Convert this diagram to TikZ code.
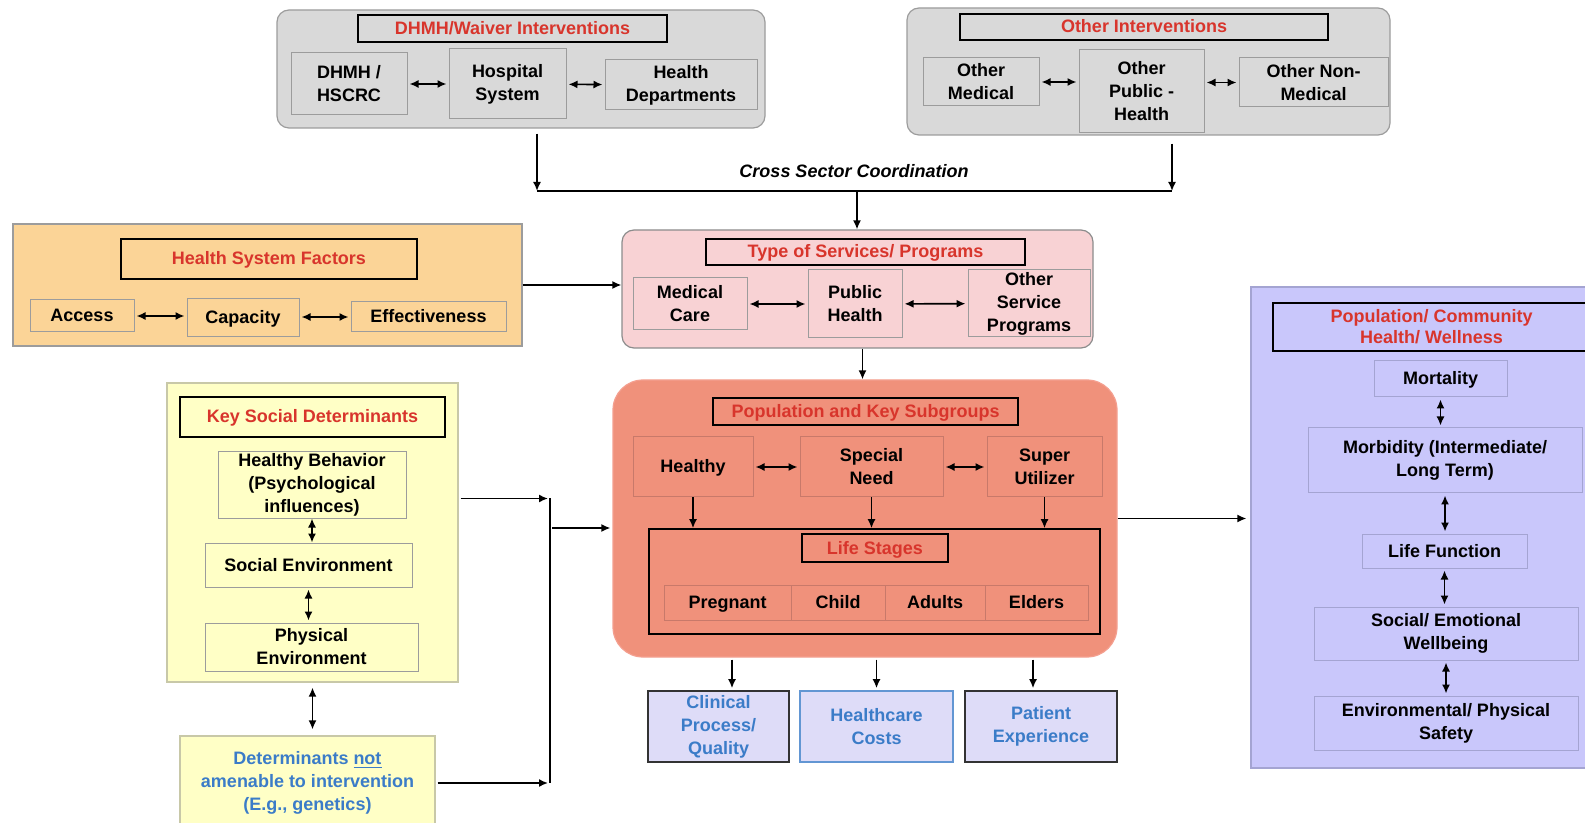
\documentclass[tikz,border=0pt]{standalone}
\usepackage{fontspec}
\setmainfont{Liberation Sans}
\usetikzlibrary{arrows.meta}

\definecolor{grayfill}{HTML}{D9D9D9}
\definecolor{grayline}{HTML}{9C9C9C}
\definecolor{orangefill}{HTML}{FBD497}
\definecolor{pinkfill}{HTML}{F8D2D4}
\definecolor{salmon}{HTML}{F0917B}
\definecolor{salmonline}{HTML}{C8796A}
\definecolor{yellowfill}{HTML}{FFFFC6}
\definecolor{yellowline}{HTML}{C8C8A8}
\definecolor{lilac}{HTML}{C9C7FB}
\definecolor{lilacline}{HTML}{A4A4D2}
\definecolor{lilaclight}{HTML}{DEDCF8}
\definecolor{titlered}{HTML}{D8352C}
\definecolor{textblue}{HTML}{3B7CC8}

\newcommand{\dfont}{\fontsize{9}{11.5}\selectfont}

\tikzset{
  >={Latex[length=4.5pt,width=4pt]},
  panel/.style={draw=grayline, line width=0.6pt},
  ttl/.style={draw=black, line width=0.9pt, text=titlered, font=\dfont\bfseries, align=center, inner sep=0pt},
  itm/.style={draw=grayline, line width=0.5pt, font=\dfont\bfseries, align=center, inner sep=0pt},
  oneline/.style={text height=6.6pt, text depth=0.6pt},
  outc/.style={draw=black!80, line width=0.8pt, fill=lilaclight, text=textblue, font=\dfont\bfseries, align=center, inner sep=0pt},
  conn/.style={line width=0.8pt, shorten >=1pt, shorten <=1pt},
}

\begin{document}
\begin{tikzpicture}[x=0.5pt, y=-0.5pt]
\clip (0,0) rectangle (1585,823);

% DHMH / waiver interventions
\node[panel, fill=grayfill, rounded corners=6pt, minimum width=244pt, minimum height=59pt] (dhmhgrp) at (521,69) {};
\node[ttl, oneline, minimum width=154.5pt, minimum height=13.5pt] (dhmhttl) at (512.5,28.5) {DHMH/Waiver Interventions};
\node[itm, minimum width=58pt, minimum height=31pt] (dhmh) at (349,84) {DHMH /\\HSCRC};
\node[itm, minimum width=58.5pt, minimum height=35pt] (hosp) at (507.5,84) {Hospital\\System};
\node[itm, minimum width=76pt, minimum height=25pt] (hdept) at (681,85) {Health\\Departments};
\draw[conn,<->] (dhmh) -- (hosp);
\draw[conn,<->] (hosp) -- (hdept);

% other interventions
\node[panel, fill=grayfill, rounded corners=6pt, minimum width=241.5pt, minimum height=63.5pt] (othgrp) at (1148.5,71.5) {};
\node[ttl, oneline, minimum width=184pt, minimum height=13pt] (othttl) at (1144,27) {Other Interventions};
\node[itm, minimum width=58pt, minimum height=24pt] (omed) at (981,82) {Other\\Medical};
\node[itm, minimum width=62.5pt, minimum height=41.5pt] (oph) at (1141.5,91.5) {Other\\Public -\\Health};
\node[itm, minimum width=74.5pt, minimum height=24.5pt] (onm) at (1313.5,82.5) {Other Non-\\Medical};
\draw[conn,<->] (omed.east) -- (omed.east -| oph.west);
\draw[conn,<->] (onm.west -| oph.east) -- (onm.west);

% cross sector coordination
\coordinate (xs) at (857,191);
\coordinate (dhmhout) at ([xshift=8pt,yshift=-2.5pt]dhmhgrp.south);
\coordinate (othout) at ([xshift=11.75pt,yshift=-4pt]othgrp.south);
\node[font=\dfont\bfseries\itshape] (xslbl) at (854,171) {Cross Sector Coordination};
\draw[line width=0.8pt,->] (dhmhout) -- (dhmhout |- xs);
\draw[line width=0.8pt,->] (othout) -- (othout |- xs);
\draw[line width=0.8pt] (dhmhout |- xs) -- (othout |- xs);

% type of services
\node[panel, draw=black!45, fill=pinkfill, rounded corners=6pt, minimum width=235.5pt, minimum height=59pt] (svc) at (857.5,289) {};
\node[ttl, oneline, minimum width=159.5pt, minimum height=13pt] (svcttl) at (865.5,252) {Type of Services/ Programs};
\node[itm, minimum width=57pt, minimum height=26pt] (med) at (690,304) {Medical\\Care};
\node[itm, minimum width=47pt, minimum height=34pt] (pub) at (855,304) {Public\\Health};
\node[itm, minimum width=61pt, minimum height=33.5pt] (osp) at (1029,303.5) {Other\\Service\\Programs};
\draw[conn,<->] (med) -- (pub);
\draw[conn,<->] (pub) -- (osp);
\draw[line width=0.8pt,->] (xs) -- (xs |- svc.north);

% health system factors
\node[panel, fill=orangefill, minimum width=254.5pt, minimum height=61pt] (hsf) at (267.5,285) {};
\node[ttl, oneline, minimum width=148pt, minimum height=20pt] (hsfttl) at (269,259) {Health System Factors};
\node[itm, oneline, minimum width=52pt, minimum height=16pt] (access) at (82,316) {Access};
\node[itm, oneline, minimum width=56pt, minimum height=19pt] (capacity) at (243,318) {Capacity};
\node[itm, oneline, minimum width=77.5pt, minimum height=15pt] (effect) at (428.5,317) {Effectiveness};
\draw[conn,<->] (access.east) -- (access.east -| capacity.west);
\draw[conn,<->] (effect.west -| capacity.east) -- (effect.west);
\draw[line width=0.8pt,->] (hsf.east) -- (hsf.east -| svc.west);

% population and key subgroups
\node[draw=salmon!70!pink, line width=0.6pt, fill=salmon, rounded corners=15pt, minimum width=252pt, minimum height=138.5pt] (pop) at (865,518.5) {};
\node[ttl, oneline, minimum width=152.5pt, minimum height=13.5pt] (popttl) at (865.5,411.5) {Population and Key Subgroups};
\node[itm, oneline, draw=salmonline, minimum width=60pt, minimum height=30pt] (healthy) at (693,467) {Healthy};
\node[itm, draw=salmonline, minimum width=71.5pt, minimum height=30pt] (special) at (871.5,467) {Special\\Need};
\node[itm, draw=salmonline, minimum width=57.5pt, minimum height=30pt] (super) at (1044.5,467) {Super\\Utilizer};
\draw[conn,<->] (healthy) -- (special);
\draw[conn,<->] (special) -- (super);
\node[draw=black, line width=0.8pt, minimum width=225.5pt, minimum height=52.5pt] (ls) at (874.5,581.5) {};
\node[ttl, oneline, minimum width=73pt, minimum height=14pt] (lsttl) at (875,548) {Life Stages};
\node[itm, oneline, draw=salmonline, minimum width=63.5pt, minimum height=17.5pt] (preg) at (727.5,602.5) {Pregnant};
\node[itm, oneline, draw=salmonline, minimum width=47pt, minimum height=17.5pt] (child) at (838,602.5) {Child};
\node[itm, oneline, draw=salmonline, minimum width=50pt, minimum height=17.5pt] (adults) at (935,602.5) {Adults};
\node[itm, oneline, draw=salmonline, minimum width=51.5pt, minimum height=17.5pt] (elders) at (1036.5,602.5) {Elders};
\foreach \g in {healthy,special,super}
  \draw[line width=0.8pt,->] (\g.south) -- (\g.south |- ls.north);
\coordinate (svcout) at ([xshift=2.5pt]svc.south);
\draw[line width=0.8pt,->] (svcout) -- (svcout |- pop.north);

% outcomes
\node[outc, minimum width=70.5pt, minimum height=35.5pt] (clin) at (718.5,726.5) {Clinical\\Process/\\Quality};
\node[outc, draw=textblue!80, minimum width=76.5pt, minimum height=35.5pt] (cost) at (876.5,726.5) {Healthcare\\Costs};
\node[outc, minimum width=76pt, minimum height=35.5pt] (pat) at (1041,726.5) {Patient\\Experience};
\coordinate (clinin) at ([xshift=6.75pt]clin.north);
\coordinate (costin) at (cost.north);
\coordinate (patin) at ([xshift=-4pt]pat.north);
\foreach \o in {clinin,costin,patin}
  \draw[conn,->] (\o |- pop.south) -- (\o);

% key social determinants
\node[draw=yellowline, line width=0.6pt, fill=yellowfill, minimum width=145.5pt, minimum height=149.5pt] (ksd) at (312.5,532.5) {};
\node[ttl, oneline, minimum width=132.5pt, minimum height=20pt] (ksdttl) at (312.5,417) {Key Social Determinants};
\node[itm, minimum width=94pt, minimum height=33pt] (hb) at (312,485) {Healthy Behavior\\(Psychological\\influences)};
\node[itm, oneline, minimum width=103.5pt, minimum height=22pt] (se) at (308.5,565) {Social Environment};
\node[itm, minimum width=106.5pt, minimum height=24pt] (pe) at (311.5,647) {Physical\\Environment};
\draw[line width=0.8pt,<->] (hb.south) -- (hb.south |- se.north);
\draw[conn,<->] (se.south) -- (se.south |- pe.north);
\node[draw=yellowline, line width=0.6pt, fill=yellowfill, text=textblue, font=\dfont\bfseries, align=center, minimum width=127.5pt, minimum height=47pt] (det) at (307.5,783) {Determinants \underline{not}\\amenable to intervention\\(E.g., genetics)};
\draw[line width=0.8pt,<->, shorten <=2.5pt, shorten >=3pt] (ksd.south) -- (ksd.south |- det.north);

% merge into population
\coordinate (mrg) at (550,528);
\coordinate (ksdout) at ([yshift=17pt]ksd.east);
\draw[conn,->] (ksdout) -- (ksdout -| mrg);
\draw[conn,->] (det.east) -- (det.east -| mrg);
\draw[line width=0.8pt] (ksdout -| mrg) -- (det.east -| mrg);
\draw[conn,->] (mrg) -- (mrg -| pop.west);

% population / community health
\node[draw=lilacline, line width=0.6pt, fill=lilac, minimum width=175pt, minimum height=240.5pt] (pcw) at (1426,527.5) {};
\node[ttl, font=\fontsize{9}{10.5}\selectfont\bfseries, minimum width=158.5pt, minimum height=24pt] (pcwttl) at (1431.5,327) {Population/ Community\\Health/ Wellness};
\node[itm, oneline, draw=lilacline, minimum width=66.5pt, minimum height=18pt] (mort) at (1440.5,379) {Mortality};
\node[itm, draw=lilacline, minimum width=137pt, minimum height=32.5pt] (morb) at (1445,460.5) {Morbidity (Intermediate/\\Long Term)};
\node[itm, oneline, draw=lilacline, minimum width=82.5pt, minimum height=17pt] (lf) at (1444.5,551) {Life Function};
\node[itm, draw=lilacline, minimum width=132pt, minimum height=26.5pt] (soc) at (1446,633.5) {Social/ Emotional\\Wellbeing};
\node[itm, draw=lilacline, minimum width=132pt, minimum height=27pt] (env) at (1446,723) {Environmental/ Physical\\Safety};
\draw[conn,<->] (mort.south) -- (mort.south |- morb.north);
\draw[conn,<->] (morb.south) -- (morb.south |- lf.north);
\draw[conn,<->] (lf.south) -- (lf.south |- soc.north);
\draw[conn,<->] (soc.south) -- (soc.south |- env.north);
\draw[line width=0.8pt,->, shorten >=2pt] (pop.east) -- (pop.east -| pcw.west);

\end{tikzpicture}
\end{document}
